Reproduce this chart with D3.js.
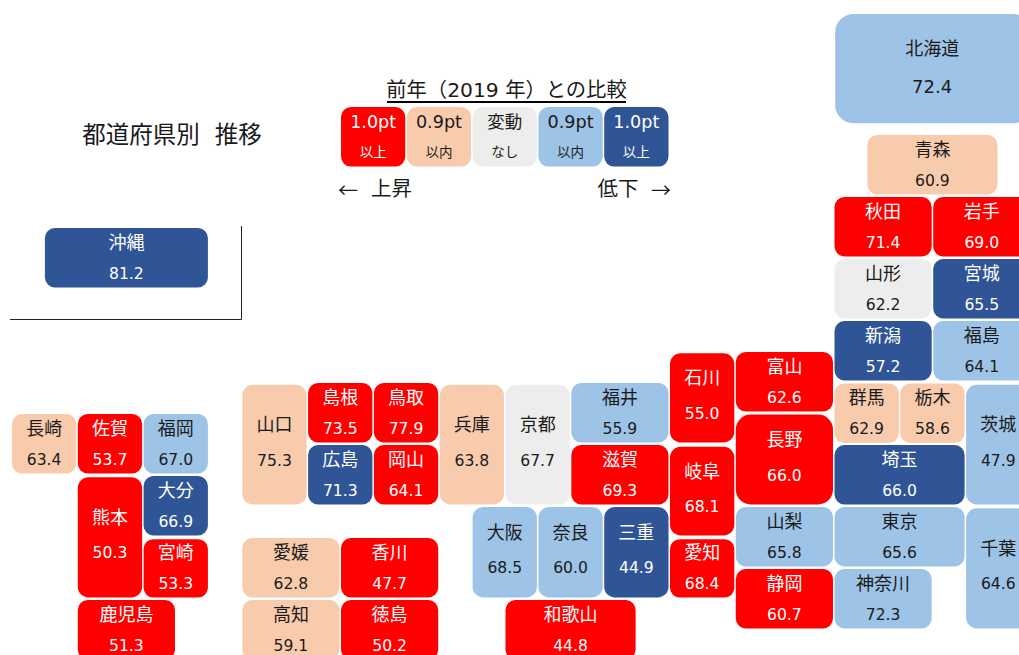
<!DOCTYPE html>
<html lang="ja"><head><meta charset="utf-8">
<style>html,body{margin:0;padding:0;background:#fff;overflow:hidden}svg{display:block}
text{font-family:"DejaVu Sans","Noto Sans CJK JP",sans-serif;text-anchor:middle;dominant-baseline:central;white-space:pre}</style>
<script src="https://cdn.jsdelivr.net/npm/d3@7/dist/d3.min.js"></script></head><body>
<svg id="c" width="1019" height="655"></svg>
<script>
// data
const prefectures=["北海道","青森","秋田","岩手","山形","宮城","新潟","福島","群馬","栃木","茨城","埼玉","千葉","東京","神奈川","富山","石川","福井","山梨","長野","岐阜","静岡","愛知","三重","滋賀","京都","大阪","兵庫","奈良","和歌山","鳥取","島根","岡山","広島","山口","徳島","香川","愛媛","高知","福岡","佐賀","長崎","熊本","大分","宮崎","鹿児島","沖縄"];
const rates=[72.4,60.9,71.4,69.0,62.2,65.5,57.2,64.1,62.9,58.6,47.9,66.0,64.6,65.6,72.3,62.6,55.0,55.9,65.8,66.0,68.1,60.7,68.4,44.9,69.3,67.7,68.5,63.8,60.0,44.8,77.9,73.5,64.1,71.3,75.3,50.2,47.7,62.8,59.1,67.0,53.7,63.4,50.3,66.9,53.3,51.3,81.2];
const changeClass=["d1","u1","U","U","n","D","D","d1","u1","u1","d1","D","d1","d1","d1","U","U","d1","d1","U","U","U","U","D","U","n","d1","u1","d1","U","U","U","U","D","u1","U","U","u1","u1","d1","U","u1","U","D","U","U","D"];
const legendKeys=["U","u1","n","d1","D"];
const legendTop=["1.0pt","0.9pt","変動","0.9pt","1.0pt"];
const legendBottom=["以上","以内","なし","以内","以上"];
// tile-map layout (grid units), parallel to prefectures
const gridCol=[12.51,13,12.5,14,12.5,14,12.5,14,12.5,13.5,14.5,12.5,14.5,12.5,12.5,11,10,8.5,11,11,10,11,10,9,8.5,7.5,7,6.5,8,7.5,5.5,4.5,5.5,4.5,3.5,5,5,3.5,3.5,2,1,0,1,2,2,1,0.5];
const gridRow=[-2.95,-1,0,0,1,1,2,2,3.01,3.01,3.03,4,5.02,5,6,2.5,2.52,3,5,3.51,4.03,6,5.52,5,4,3.03,5,3.03,5,6.5,3,3,4,4,3.03,6.5,5.5,5.5,6.5,3.5,3.5,3.5,4.52,4.5,5.52,6.5,0.5];
const colSpan=[3,2,1.5,1.5,1.5,1.5,1.5,1.5,1,1,1,2,1,2,1.5,1.5,1,1.5,1.5,1.5,1,1.5,1,1,1.5,1,1,1,1,2,1,1,1,1,1,1.5,1.5,1.5,1.5,1,1,1,1,1,1,1.5,2.5];
const rowSpan=[1.8,1,1,1,1,1,1,1,1,1,1.97,1,1.98,1,1,1,1.48,1,1,1.49,1.47,1,0.98,1.5,1,1.97,1.5,1.97,1.5,1,1,1,1,1,1.97,1,1,1,1,1,1,1,1.98,1,0.98,1,1];

const fills={U:"#FF0000",u1:"#F8CBAD",n:"#EDEDED",d1:"#9DC3E6",D:"#2F5597"};
const inks={U:"#fff",u1:"#1a1a1a",n:"#1a1a1a",d1:"#1a1a1a",D:"#fff"};
const x=d3.scaleLinear().domain([0,1]).range([12,77.8]);
const y=d3.scaleLinear().domain([0,1]).range([197,259]);
const GX=1.5,GY=2.5;
const svg=d3.select("#c");
const rr=(w,h)=>Math.min(w,h)/6;
const tiles=prefectures.map((n,i)=>({n,v:rates[i],k:changeClass[i],c:gridCol[i],r:gridRow[i],cs:colSpan[i],rs:rowSpan[i]}));
const g=svg.selectAll("g.t").data(tiles).join("g").attr("class","t")
 .attr("transform",d=>`translate(${x(d.c)},${y(d.r)})`);
const W=d=>x(d.c+d.cs)-x(d.c)-GX, H=d=>y(d.r+d.rs)-y(d.r)-GY;
g.append("rect").attr("width",W).attr("height",H).attr("rx",d=>rr(W(d),H(d))).attr("fill",d=>fills[d.k]);
const big=d=>d.rs>1.2;
g.append("text").attr("x",d=>d.n==="北海道"?97:W(d)/2).attr("y",d=>H(d)/2+(big(d)?-20:-15.5))
 .attr("fill",d=>inks[d.k]).style("font-size","18px").text(d=>d.n);
g.append("text").attr("x",d=>d.n==="北海道"?97:W(d)/2).attr("y",d=>H(d)/2+(d.n==="北海道"?18:16))
 .attr("fill",d=>inks[d.k]).style("font-size",d=>d.n==="北海道"?"18px":"15.6px").text(d=>d.v.toFixed(1));

// legend
const lg=svg.selectAll("g.l").data(legendKeys).join("g").attr("class","l")
 .attr("transform",(d,i)=>`translate(${x(5+i)},${y(-1.45)})`);
const LW=x(1)-x(0)-GX,LH=y(1)-y(0)-GY;
lg.append("rect").attr("width",LW).attr("height",LH).attr("rx",10).attr("fill",d=>fills[d]);
lg.append("text").attr("x",LW/2).attr("y",15).attr("fill",d=>inks[d]).style("font-size",(d,i)=>i===2?"17.5px":"17.6px").text((d,i)=>legendTop[i]);
lg.append("text").attr("x",LW/2).attr("y",45).attr("fill",d=>inks[d]).style("font-size","13.5px").text((d,i)=>legendBottom[i]);

const label=(t,px,py,fs)=>svg.append("text").attr("x",px).attr("y",py).attr("fill","#1a1a1a").style("font-size",fs+"px").text(t);
label("都道府県別  推移",172,135,23.5);
label("前年（2019 年）との比較",506.5,90,20.3);
svg.append("line").attr("x1",387).attr("x2",626).attr("y1",102).attr("y2",102).attr("stroke","#000").attr("stroke-width",2);
label("←",348,189,20).style("font-family","'Noto Sans CJK JP'");
label("上昇",391.5,189,20.5);
label("低下",618,189,20.5);
label("→",661,189,20).style("font-family","'Noto Sans CJK JP'");
svg.append("path").attr("d",d3.line()([[241.5,226],[241.5,319.5],[10,319.5]])).attr("fill","none").attr("stroke","#222").attr("stroke-width",1);
</script></body></html>
